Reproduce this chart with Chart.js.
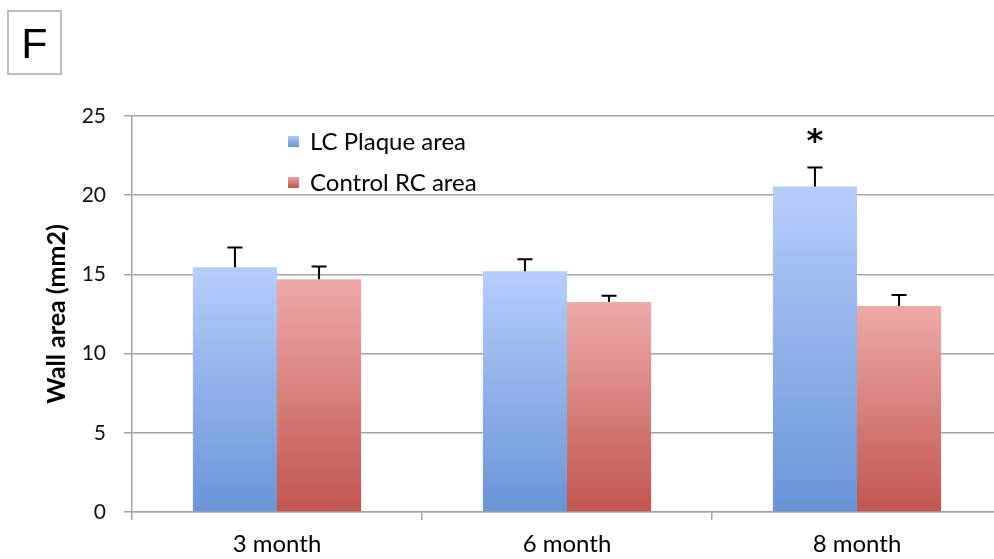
<!DOCTYPE html>
<html>
<head>
<meta charset="utf-8">
<script src="https://cdn.jsdelivr.net/npm/chart.js@4.4.0/dist/chart.umd.min.js"></script>
<style>
    html, body { margin: 0; padding: 0; background: #fff; overflow: hidden; }
    #wrap { position: relative; width: 994px; height: 559px; overflow: hidden; }
    #chart { position: absolute; left: 0; top: 0; }
    #panel {
        position: absolute; left: 7px; top: 10px; width: 51px; height: 61px;
        border: 2px solid #bdbdbd; font-family: "Liberation Sans", Arial, sans-serif;
        font-size: 43px; line-height: 63px; text-align: center; color: #000;
    }
</style>
</head>
<body>
<div id="wrap">
    <canvas id="chart" width="1002" height="559"></canvas>
    <div id="panel">F</div>
</div>
<script>
// データ
const categories = ['3 month', '6 month', '8 month'];
const seriesNames = ['LC Plaque area', 'Control RC area'];
const plaqueArea = [15.45, 15.2, 20.55];
const plaqueErr = [1.25, 0.75, 1.2];
const controlArea = [14.7, 13.25, 13.0];
const controlErr = [0.8, 0.4, 0.7];
const significance = ['', '', '*'];
const yTicks = [0, 5, 10, 15, 20, 25];

const BLUE = ['#b5cdfb', '#6995d7'];
const RED = ['#eeaaa8', '#c2554f'];

// 棒ごとのグラデーション
function barGradient(colors) {
    return function(context) {
        const chart = context.chart;
        if (!chart.chartArea || context.type !== 'data') return colors[1];
        const y = chart.scales.y;
        const top = y.getPixelForValue(context.raw);
        const bottom = y.getPixelForValue(0);
        if (!isFinite(top) || !isFinite(bottom) || top === bottom) return colors[1];
        const g = chart.ctx.createLinearGradient(0, top, 0, bottom);
        g.addColorStop(0, colors[0]);
        g.addColorStop(1, colors[1]);
        return g;
    };
}

// エラーバーと有意差マーク
const errorBars = {
    id: 'errorBars',
    afterDatasetsDraw(chart) {
        const ctx = chart.ctx;
        const y = chart.scales.y;
        const errs = [plaqueErr, controlErr];
        ctx.save();
        ctx.strokeStyle = '#000';
        ctx.lineWidth = 2;
        chart.data.datasets.forEach((ds, i) => {
            const meta = chart.getDatasetMeta(i);
            meta.data.forEach((bar, j) => {
                const yTop = y.getPixelForValue(ds.data[j] + errs[i][j]);
                ctx.beginPath();
                ctx.moveTo(bar.x, bar.y);
                ctx.lineTo(bar.x, yTop);
                ctx.moveTo(bar.x - 7.5, yTop);
                ctx.lineTo(bar.x + 7.5, yTop);
                ctx.stroke();
                if (i === 0 && significance[j]) {
                    ctx.fillStyle = '#000';
                    ctx.font = 'bold 32px "DejaVu Sans"';
                    ctx.textAlign = 'center';
                    ctx.textBaseline = 'alphabetic';
                    ctx.fillText(significance[j], bar.x, yTop - 16);
                }
            });
        });
        ctx.restore();
    }
};

// 凡例（プロット内）
const innerLegend = {
    id: 'innerLegend',
    afterDraw(chart) {
        const ctx = chart.ctx;
        const rows = [
            { text: seriesNames[0], colors: BLUE, y: 141 },
            { text: seriesNames[1], colors: RED, y: 182 }
        ];
        ctx.save();
        rows.forEach(r => {
            const g = ctx.createLinearGradient(0, r.y - 6, 0, r.y + 6);
            g.addColorStop(0, r.colors[0]);
            g.addColorStop(1, r.colors[1]);
            ctx.fillStyle = g;
            ctx.fillRect(288, r.y - 5, 11, 11);
            ctx.fillStyle = '#000';
            ctx.font = '24px Lato';
            ctx.textAlign = 'left';
            ctx.textBaseline = 'middle';
            ctx.fillText(r.text, 310, r.y + 1);
        });
        ctx.restore();
    }
};

const gridColor = '#a3a3a3';

new Chart(document.getElementById('chart'), {
    type: 'bar',
    data: {
        labels: categories,
        datasets: [{
            label: seriesNames[0],
            data: plaqueArea,
            backgroundColor: barGradient(BLUE),
            categoryPercentage: 0.58,
            barPercentage: 1.0
        }, {
            label: seriesNames[1],
            data: controlArea,
            backgroundColor: barGradient(RED),
            categoryPercentage: 0.58,
            barPercentage: 1.0
        }]
    },
    options: {
        responsive: false,
        animation: false,
        layout: { padding: { top: 116, left: 0, right: 0, bottom: 0 } },
        plugins: {
            legend: { display: false },
            tooltip: { enabled: false }
        },
        scales: {
            x: {
                offset: true,
                grid: {
                    offset: true,
                    drawOnChartArea: false,
                    color: gridColor,
                    lineWidth: 1.5,
                    tickLength: 8
                },
                border: { color: gridColor, width: 1.5 },
                ticks: {
                    color: '#000',
                    padding: 10,
                    font: { family: 'Lato', size: 24 }
                },
                afterFit(scale) { scale.height = 47; }
            },
            y: {
                min: 0,
                max: 25,
                afterBuildTicks(scale) {
                    scale.ticks = yTicks.map(v => ({ value: v }));
                },
                grid: {
                    color: gridColor,
                    lineWidth: 1.5,
                    tickLength: 8
                },
                border: { color: gridColor, width: 1.5 },
                ticks: {
                    color: '#111',
                    padding: 18,
                    font: { family: 'Lato', size: 21 }
                },
                title: {
                    display: true,
                    text: 'Wall area (mm2)',
                    color: '#000',
                    font: { family: 'Lato', size: 25, weight: 'bold' },
                    padding: { top: 42, bottom: 0 }
                },
                afterFit(scale) { scale.width = 132; }
            }
        }
    },
    plugins: [errorBars, innerLegend]
});
</script>
</body>
</html>
